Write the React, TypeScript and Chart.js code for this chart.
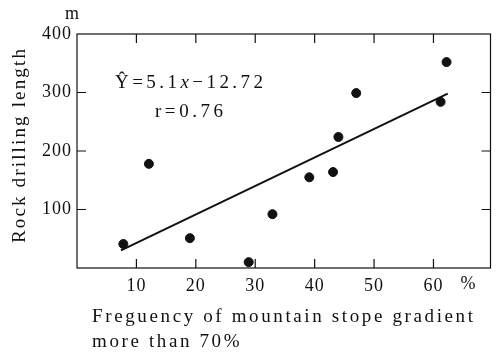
import React, { useEffect, useRef } from 'react';
import { Chart, registerables } from 'chart.js';

Chart.register(...registerables);

// ---- data ----
const xTickValues = [10, 20, 30, 40, 50, 60];
const yTickValues = [100, 200, 300, 400];
const slopeFreq = [7.8, 12.1, 19.0, 28.9, 32.9, 39.1, 43.1, 44.0, 47.0, 61.2, 62.2];
const drillLength = [41, 178, 51, 10, 92, 155, 164, 224, 299, 284, 352];
const fitX = [7.4, 62.4];
const fitY = [30, 298];

const xTitleLines = ['Freguency of mountain stope gradient', 'more than 70%'];
const yTitle = 'Rock drilling length';
const yUnit = 'm';
const xUnit = '%';
const eqParts = ['Ŷ=5.1', 'x', '−12.72'];
const rText = 'r=0.76';

const FONT = "'Liberation Serif', 'Times New Roman', serif";
const INK = '#111';

function setFont(ctx: CanvasRenderingContext2D, size: number, italic = false) {
  ctx.font = `${italic ? 'italic ' : ''}${size}px ${FONT}`;
}

function spacedWidth(ctx: CanvasRenderingContext2D, s: string, target: number) {
  (ctx as any).letterSpacing = '0px';
  const w = ctx.measureText(s).width;
  return Math.max(0, (target - w) / Math.max(1, s.length - 1));
}

const decorPlugin = {
  id: 'decor',
  beforeDraw(chart: any) {
    (chart.ctx as any).letterSpacing = '1px';
  },
  afterDraw(chart: any) {
    const ctx: CanvasRenderingContext2D = chart.ctx;
    const a = chart.chartArea;
    const xs = chart.scales.x;
    const ys = chart.scales.y;
    ctx.save();
    (ctx as any).letterSpacing = '0px';
    ctx.strokeStyle = INK;
    ctx.lineWidth = 1.2;
    ctx.strokeRect(a.left, a.top, a.right - a.left, a.bottom - a.top);
    const tl = 9;
    ctx.beginPath();
    xTickValues.forEach((v) => {
      const px = xs.getPixelForValue(v);
      ctx.moveTo(px, a.bottom);
      ctx.lineTo(px, a.bottom - tl);
      ctx.moveTo(px, a.top);
      ctx.lineTo(px, a.top + tl);
    });
    yTickValues.forEach((v) => {
      if (v >= 400) return;
      const py = ys.getPixelForValue(v);
      ctx.moveTo(a.left, py);
      ctx.lineTo(a.left + tl, py);
      ctx.moveTo(a.right, py);
      ctx.lineTo(a.right - tl, py);
    });
    ctx.stroke();

    ctx.fillStyle = INK;
    ctx.textBaseline = 'middle';

    setFont(ctx, 18);
    ctx.textAlign = 'center';
    ctx.fillText(yUnit, 72, 14);
    ctx.fillText(xUnit, 468, xs.top + 16);

    setFont(ctx, 19);
    ctx.save();
    ctx.translate(20, 145);
    ctx.rotate(-Math.PI / 2);
    (ctx as any).letterSpacing = spacedWidth(ctx, yTitle, 194) + 'px';
    ctx.textAlign = 'center';
    ctx.fillText(yTitle, 0, 0);
    ctx.restore();

    setFont(ctx, 19);
    ctx.textAlign = 'left';
    const ls = spacedWidth(ctx, xTitleLines[0], 381);
    (ctx as any).letterSpacing = ls + 'px';
    ctx.fillText(xTitleLines[0], 92, 317);
    ctx.fillText(xTitleLines[1], 92, 342);

    // equation: spread to the width seen in the reference
    (ctx as any).letterSpacing = '0px';
    let natural = 0;
    let nChars = 0;
    eqParts.forEach((p, i) => {
      setFont(ctx, 19, i === 1);
      natural += ctx.measureText(p).width;
      nChars += p.length;
    });
    const eqLs = Math.max(0, (148 - natural) / (nChars - 1));
    (ctx as any).letterSpacing = eqLs + 'px';
    let cx = 115;
    eqParts.forEach((p, i) => {
      setFont(ctx, 19, i === 1);
      ctx.fillText(p, cx, 83);
      cx += ctx.measureText(p).width;
    });
    setFont(ctx, 19);
    (ctx as any).letterSpacing = spacedWidth(ctx, rText, 68) + 'px';
    ctx.fillText(rText, 155, 112);
    ctx.restore();
  },
};

export default function App() {
  const ref = useRef<HTMLCanvasElement>(null);
  useEffect(() => {
    let chart: Chart | null = null;
    let cancelled = false;
    const build = () => {
      if (cancelled) return;
      const canvas = ref.current!;
      chart = new Chart(canvas, {
        data: {
          datasets: [
            {
              type: 'scatter',
              data: slopeFreq.map((x, i) => ({ x, y: drillLength[i] })),
              backgroundColor: INK,
              borderColor: INK,
              pointRadius: 4.5,
              pointHoverRadius: 4.5,
            },
            {
              type: 'line',
              data: fitX.map((x, i) => ({ x, y: fitY[i] })),
              borderColor: INK,
              borderWidth: 2,
              pointRadius: 0,
              fill: false,
            },
          ],
        } as any,
        options: {
          animation: false,
          responsive: false,
          maintainAspectRatio: false,
          layout: { padding: { left: 0, top: 34, right: 4, bottom: 0 } },
          plugins: { legend: { display: false }, tooltip: { enabled: false }, title: { display: false } },
          scales: {
            x: {
              type: 'linear',
              min: 0,
              max: 69.6,
              grid: { display: false, drawTicks: false },
              border: { display: false },
              afterBuildTicks: (s: any) => {
                s.ticks = xTickValues.map((v) => ({ value: v }));
              },
              afterFit: (s: any) => {
                s.height = 87;
              },
              ticks: {
                padding: 7,
                color: INK,
                font: { family: FONT, size: 18 },
                maxRotation: 0,
                autoSkip: false,
              },
            },
            y: {
              type: 'linear',
              min: 0,
              max: 400,
              grid: { display: false, drawTicks: false },
              border: { display: false },
              afterBuildTicks: (s: any) => {
                s.ticks = yTickValues.map((v) => ({ value: v }));
              },
              afterFit: (s: any) => {
                s.width = 77;
              },
              ticks: {
                padding: 5,
                color: INK,
                font: { family: FONT, size: 18 },
                autoSkip: false,
              },
            },
          },
        } as any,
        plugins: [decorPlugin],
      });
    };
    const fonts: any = (document as any).fonts;
    if (fonts && fonts.load) {
      Promise.all([
        fonts.load("16px 'Liberation Serif'"),
        fonts.load("italic 16px 'Liberation Serif'"),
      ])
        .catch(() => null)
        .then(build);
    } else {
      build();
    }
    return () => {
      cancelled = true;
      if (chart) chart.destroy();
    };
  }, []);
  return (
    <div style={{ position: 'fixed', left: 0, top: 0, width: 496, height: 355, background: '#fff' }}>
      <canvas ref={ref} width={496} height={355} style={{ display: 'block' }} />
    </div>
  );
}
